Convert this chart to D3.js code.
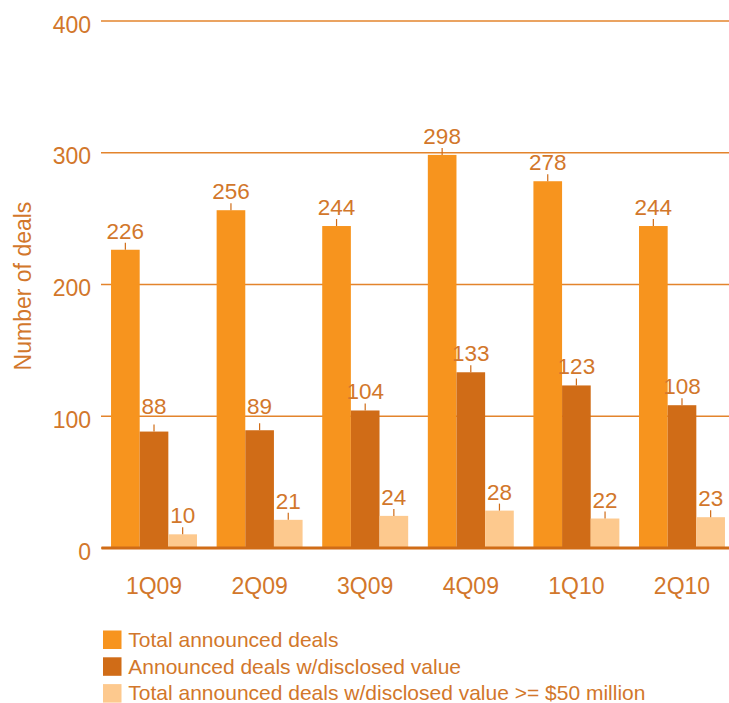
<!DOCTYPE html>
<html>
<head>
<meta charset="utf-8">
<script src="https://cdn.jsdelivr.net/npm/d3@7"></script>
<style>
  html, body { margin: 0; padding: 0; background: #fff; }
  svg { display: block; font-family: "Liberation Sans", Arial, Helvetica, sans-serif; }
</style>
</head>
<body>
<svg id="chart" width="729" height="703"></svg>
<script>
// Quarterly deal counts
const quarters = ["1Q09", "2Q09", "3Q09", "4Q09", "1Q10", "2Q10"];
const seriesNames = [
  "Total announced deals",
  "Announced deals w/disclosed value",
  "Total announced deals w/disclosed value >= $50 million"
];
const totalDeals = [226, 256, 244, 298, 278, 244];
const disclosedDeals = [88, 89, 104, 133, 123, 108];
const largeDeals = [10, 21, 24, 28, 22, 23];
const yTicks = [0, 100, 200, 300, 400];
const yTitle = "Number of deals";

const seriesValues = [totalDeals, disclosedDeals, largeDeals];
const colors = ["#F7941E", "#D06C17", "#FDC98E"];
const textColor = "#D2772B";
const gridColor = "#E3842C";

const svg = d3.select("#chart");
const W = 729;

const x = d3.scaleBand()
  .domain(quarters)
  .range([101, 735])
  .paddingInner(0.186)
  .paddingOuter(0.095);

const xs = d3.scaleBand()
  .domain(seriesNames)
  .range([0, x.bandwidth()]);

const y = d3.scaleLinear().domain([0, 400]).range([547.5, 20.5]);

// Gridlines and value ticks
const yAxis = svg.append("g")
  .attr("transform", "translate(101,0)")
  .call(d3.axisLeft(y).tickValues(yTicks).tickSize(-(W - 101)).tickPadding(10));
yAxis.select(".domain").remove();
yAxis.selectAll(".tick line").attr("stroke", gridColor).attr("stroke-width", 1.3);
yAxis.selectAll(".tick text")
  .attr("fill", textColor)
  .attr("font-size", 23)
  .attr("dy", "0.5em");

// Y axis title
svg.append("text")
  .attr("transform", "translate(31,286) rotate(-90)")
  .attr("text-anchor", "middle")
  .attr("fill", textColor)
  .attr("font-size", 23)
  .text(yTitle);

// Bars
const rows = quarters.map((q, i) => ({
  q,
  vals: seriesNames.map((s, k) => ({ s, k, v: seriesValues[k][i] }))
}));

const groups = svg.append("g").selectAll("g")
  .data(rows)
  .join("g")
  .attr("transform", d => `translate(${x(d.q)},0)`);

groups.selectAll("rect")
  .data(d => d.vals)
  .join("rect")
  .attr("x", d => xs(d.s))
  .attr("width", xs.bandwidth())
  .attr("y", d => y(d.v))
  .attr("height", d => y(0) - y(d.v))
  .attr("fill", d => colors[d.k]);

// Baseline and quarter labels
const xAxis = svg.append("g")
  .attr("transform", `translate(0,${y(0)})`)
  .call(d3.axisBottom(x).tickSize(0).tickPadding(30));
xAxis.select(".domain").attr("stroke", colors[1]).attr("stroke-width", 3);
xAxis.selectAll(".tick text").attr("fill", textColor).attr("font-size", 23);

// Value labels with leader ticks; a label that would sit on a gridline is lifted above it
const labelSize = 22.5;
const capH = labelSize * 0.72;
const labels = svg.append("g");
rows.forEach(r => {
  r.vals.forEach(d => {
    const cx = x(r.q) + xs(d.s) + xs.bandwidth() / 2;
    const top = y(d.v);
    labels.append("line")
      .attr("x1", cx).attr("x2", cx)
      .attr("y1", top).attr("y2", top - 7)
      .attr("stroke", colors[1]).attr("stroke-width", 1.2);
    let base = top - 11;
    yTicks.forEach(t => {
      const gy = y(t);
      if (t > 0 && gy < base + 1 && gy > base - capH - 1) base = gy - 1.5;
    });
    labels.append("text")
      .attr("x", cx).attr("y", base)
      .attr("text-anchor", "middle")
      .attr("fill", textColor)
      .attr("font-size", labelSize)
      .text(d.v);
  });
});

// Legend
const legend = svg.append("g").selectAll("g")
  .data(seriesNames)
  .join("g")
  .attr("transform", (d, i) => `translate(103,${630.5 + i * 26.8})`);
legend.append("rect")
  .attr("width", 18.5).attr("height", 18.5)
  .attr("fill", (d, i) => colors[i]);
legend.append("text")
  .attr("x", 25.3).attr("y", 16.3)
  .attr("fill", textColor)
  .attr("font-size", 21)
  .text(d => d);
</script>
</body>
</html>
